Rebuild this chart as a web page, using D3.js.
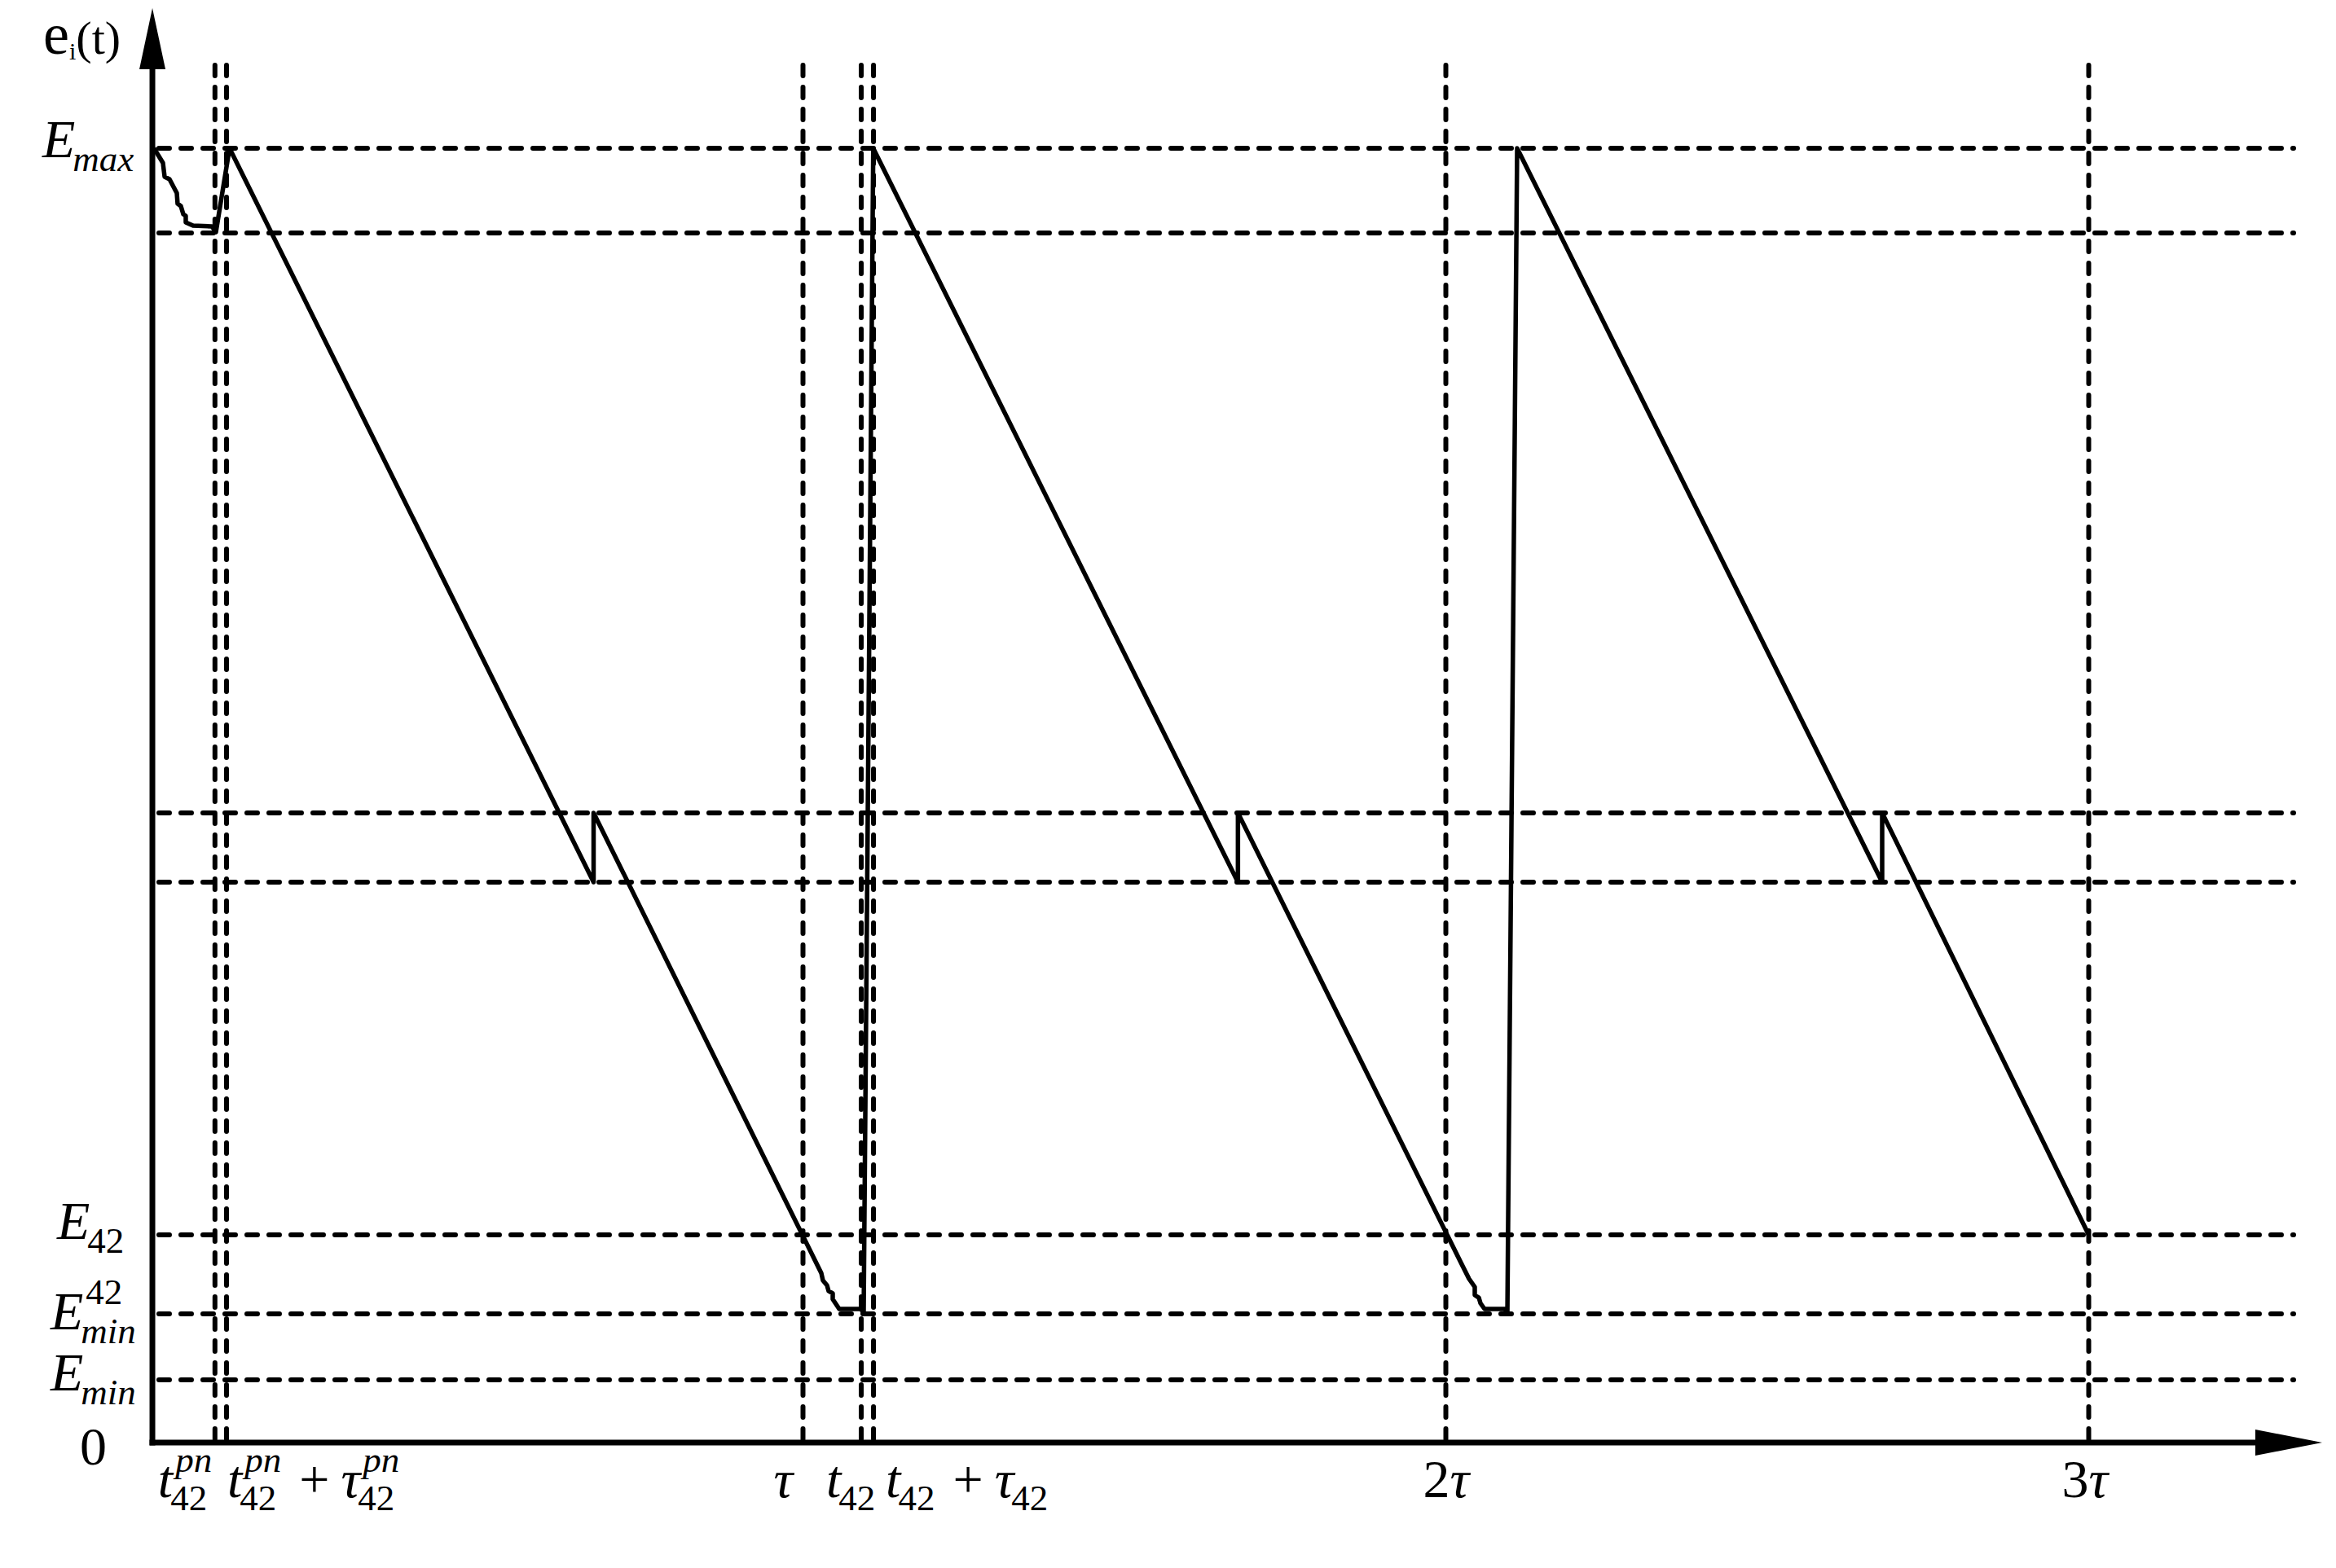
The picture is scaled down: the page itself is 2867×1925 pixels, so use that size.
<!DOCTYPE html>
<html>
<head>
<meta charset="utf-8">
<script src="https://cdn.jsdelivr.net/npm/d3@7"></script>
<style>
  html, body { margin: 0; padding: 0; background: #fff; }
  svg { display: block; }
  svg text { font-family: "Liberation Serif", "Times New Roman", serif; fill: #000; }
</style>
</head>
<body>
<svg id="chart"></svg>
<script>
// energy levels (fraction of Emax) for the horizontal dashed guides
const levelKeys = ['Emax', 'upper', 'midHigh', 'midLow', 'E42', 'Emin42', 'Emin'];
const levelValues = [1.0, 0.9346, 0.4865, 0.4330, 0.1605, 0.0994, 0.0485];

// time marks (in units of tau) for the vertical dashed guides
const timeKeys = ['t42pn', 't42pnTau', 'tau', 't42', 't42Tau', 'tau2', 'tau3'];
const timeValues = [0.0853, 0.1033, 1.0, 1.0906, 1.1097, 2.0, 3.0];

// e_i(t) curve: [t / tau, e / Emax]
const curvePoints = [
  [-0.0095, 1.0], [0.0044, 0.9887], [0.0070, 0.9780], [0.0146, 0.9761],
  [0.0260, 0.9654], [0.0272, 0.9572], [0.0323, 0.9553], [0.0361, 0.9490],
  [0.0399, 0.9478], [0.0399, 0.9427], [0.0513, 0.9402], [0.0805, 0.9396],
  [0.0868, 0.9352], [0.1080, 1.0],
  [0.6743, 0.4330], [0.6743, 0.4865],
  [1.0285, 0.1309], [1.0311, 0.1252], [1.0374, 0.1215], [1.0399, 0.1171],
  [1.0463, 0.1152], [1.0463, 0.1108], [1.0564, 0.1032], [1.0906, 0.1032],
  [1.0944, 0.0994], [1.1093, 1.0],
  [1.6766, 0.4330], [1.6766, 0.4865],
  [2.0234, 0.1391], [2.0361, 0.1265], [2.0450, 0.1202], [2.0450, 0.1139],
  [2.0513, 0.1120], [2.0539, 0.1076], [2.0602, 0.1032], [2.0919, 0.1032],
  [2.0957, 0.0994], [2.1109, 1.0],
  [2.6787, 0.4330], [2.6787, 0.4865],
  [3.0, 0.1605]
];

// y tick labels: value + math pieces
const yLabels = [
  { value: 1.0,    atoms: [{ base: 'E', sub: 'max', subItalic: true }] },
  { value: 0.1605, atoms: [{ base: 'E', sub: '42' }] },
  { value: 0.0994, atoms: [{ base: 'E', sub: 'min', subItalic: true, sup: '42' }] },
  { value: 0.0485, atoms: [{ base: 'E', sub: 'min', subItalic: true }] },
  { value: 0,      atoms: [{ base: '0', italic: false }] }
];

// x tick labels
const xLabels = [
  { value: 0.0853, atoms: [{ base: 't', sub: '42', sup: 'pn', supItalic: true }] },
  { value: 0.1033, atoms: [{ base: 't', sub: '42', sup: 'pn', supItalic: true },
                           { base: '+', italic: false, padL: 22, padR: 14 },
                           { base: 'τ', sub: '42', sup: 'pn', supItalic: true }] },
  { value: 1.0,    atoms: [{ base: 'τ' }] },
  { value: 1.0906, atoms: [{ base: 't', sub: '42' }] },
  { value: 1.1097, atoms: [{ base: 't', sub: '42' },
                           { base: '+', italic: false, padL: 22, padR: 14 },
                           { base: 'τ', sub: '42' }] },
  { value: 2.0,    atoms: [{ base: '2', italic: false }, { base: 'τ' }] },
  { value: 3.0,    atoms: [{ base: '3', italic: false }, { base: 'τ' }] }
];

// label placement (px nudges from the tick position)
const yLabelLayout = [
  { x: 52, dy: 11 }, { x: 70, dy: 5 }, { x: 62, dy: 19 }, { x: 62, dy: 13 }, { x: 98, dy: 27 }
];
const xLabelDx = [-70, 1, -36, -43, 15, -28, -33];

const width = 2867, height = 1925;
const tMin = -0.012;

const svg = d3.select('#chart')
  .attr('width', width).attr('height', height)
  .attr('font-family', '"Liberation Serif", "Times New Roman", serif');
svg.append('rect').attr('width', width).attr('height', height).attr('fill', '#fff');

const x = d3.scaleLinear().domain([0, 3]).range([196.5, 2563.5]);
const y = d3.scaleLinear().domain([0, 1]).range([1771, 182]);

const guideLeft = 195, guideRight = 2815, guideTop = 80, guideBottom = 1778;

function dashed(sel) {
  sel.attr('stroke', '#000')
    .attr('stroke-width', 6)
    .attr('stroke-dasharray', '13 14')
    .attr('stroke-linecap', 'round');
}

// horizontal dashed guides
svg.append('g').selectAll('line')
  .data(levelValues)
  .join('line')
  .attr('x1', guideLeft).attr('x2', guideRight)
  .attr('y1', d => y(d)).attr('y2', d => y(d))
  .call(dashed);

// vertical dashed guides
svg.append('g').selectAll('line')
  .data(timeValues)
  .join('line')
  .attr('x1', d => x(d)).attr('x2', d => x(d))
  .attr('y1', guideTop).attr('y2', guideBottom)
  .call(dashed);

// axes with arrow heads
const x0 = x(tMin), y0 = y(0);
const axisEnd = 2768, arrowTip = 2850, yAxisTop = 85, yArrowTip = 10;
svg.append('line').attr('x1', x0).attr('x2', x0).attr('y1', y0 + 3.5).attr('y2', yAxisTop)
  .attr('stroke', '#000').attr('stroke-width', 7);
svg.append('path').attr('d', `M${x0},${yArrowTip} L${x0 - 16},${yAxisTop} L${x0 + 16},${yAxisTop} Z`).attr('fill', '#000');
svg.append('line').attr('x1', x0 - 3.5).attr('x2', axisEnd).attr('y1', y0).attr('y2', y0)
  .attr('stroke', '#000').attr('stroke-width', 7);
svg.append('path').attr('d', `M${arrowTip},${y0} L${axisEnd},${y0 - 16} L${axisEnd},${y0 + 16} Z`).attr('fill', '#000');

// the curve
const line = d3.line().x(d => x(d[0])).y(d => y(d[1]));
svg.append('path')
  .datum(curvePoints)
  .attr('d', line)
  .attr('fill', 'none')
  .attr('stroke', '#000')
  .attr('stroke-width', 5.5)
  .attr('stroke-linejoin', 'round');

// math-style label builder
const mainSize = 66, scriptSize = 45;
function drawAtoms(g, atoms, subDy, supDy) {
  let cx = 0;
  atoms.forEach(a => {
    cx += a.padL || 0;
    const base = g.append('text')
      .attr('x', cx).attr('y', 0)
      .attr('font-size', mainSize)
      .attr('font-style', a.italic === false ? 'normal' : 'italic')
      .text(a.base);
    const w = base.node().getComputedTextLength();
    let sw = 0;
    if (a.sub) {
      const s = g.append('text').attr('x', cx + w - 3).attr('y', subDy)
        .attr('font-size', scriptSize)
        .attr('font-style', a.subItalic ? 'italic' : 'normal')
        .text(a.sub);
      sw = Math.max(sw, s.node().getComputedTextLength() - 3);
    }
    if (a.sup) {
      const s = g.append('text').attr('x', cx + w + 3).attr('y', -supDy)
        .attr('font-size', scriptSize)
        .attr('font-style', a.supItalic ? 'italic' : 'normal')
        .text(a.sup);
      sw = Math.max(sw, s.node().getComputedTextLength() + 3);
    }
    cx += w + sw + (a.padR || 0);
  });
}

// y labels
yLabels.forEach((d, i) => {
  const g = svg.append('g')
    .attr('transform', `translate(${yLabelLayout[i].x},${y(d.value) + yLabelLayout[i].dy})`);
  drawAtoms(g, d.atoms, 17, 31);
});

// x labels
const xBaseline = 1838;
xLabels.forEach((d, i) => {
  const g = svg.append('g')
    .attr('transform', `translate(${x(d.value) + xLabelDx[i]},${xBaseline})`);
  drawAtoms(g, d.atoms, 16, 31);
});

// y axis title e_i(t)
const title = svg.append('text').attr('x', 53).attr('y', 66);
title.append('tspan').attr('font-size', 72).text('e');
title.append('tspan').attr('font-size', 30).attr('dy', 7).text('i');
title.append('tspan').attr('font-size', 58).attr('dy', -7).text('(t)');
</script>
</body>
</html>
